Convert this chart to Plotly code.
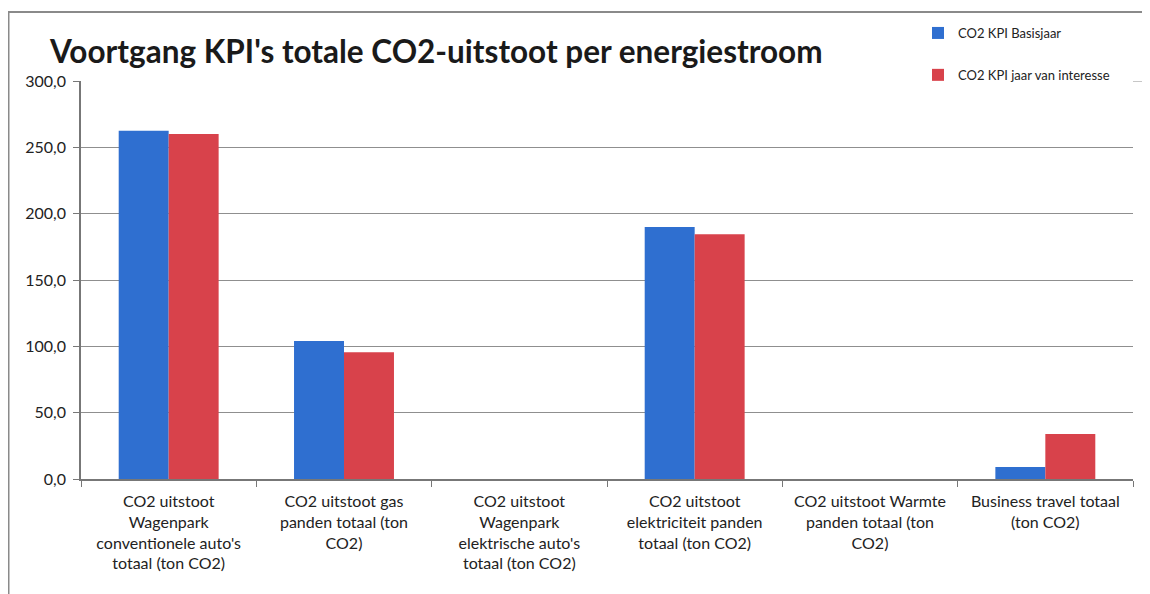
import plotly.graph_objects as go

categories = [
    "CO2 uitstoot<br>Wagenpark<br>conventionele auto's<br>totaal (ton CO2)",
    "CO2 uitstoot gas<br>panden totaal (ton<br>CO2)",
    "CO2 uitstoot<br>Wagenpark<br>elektrische auto's<br>totaal (ton CO2)",
    "CO2 uitstoot<br>elektriciteit panden<br>totaal (ton CO2)",
    "CO2 uitstoot Warmte<br>panden totaal (ton<br>CO2)",
    "Business travel totaal<br>(ton CO2)",
]
basisjaar = [262.5, 104.0, 0.0, 190.0, 0.0, 9.0]
jaar_interesse = [260.0, 95.5, 0.0, 184.5, 0.0, 34.0]
y_ticks = [0, 50, 100, 150, 200, 250, 300]

FONT = "Lato, 'Open Sans', sans-serif"
W, H = 1150, 594
L, R, T, B = 73, 25, 73, 123
PW, PH = W - L - R, H - T - B


def px(x):
    return (x - L) / PW


def py(y):
    return (H - B - y) / PH


fig = go.Figure()
fig.add_trace(go.Bar(x=categories, y=basisjaar, name="CO2 KPI Basisjaar",
                     marker=dict(color="#2f6fd0", line=dict(width=0)),
                     legendgroup="a"))
fig.add_trace(go.Bar(x=categories, y=jaar_interesse, name="CO2 KPI jaar van interesse",
                     marker=dict(color="#d8424b", line=dict(width=0)),
                     legendgroup="b"))

fig.update_layout(
    width=W, height=H,
    margin=dict(l=L, r=R, t=T, b=B, autoexpand=False),
    paper_bgcolor="white", plot_bgcolor="white",
    separators=",.",
    font=dict(family=FONT, size=16, color="#222222"),
    barmode="group", bargap=0.43, bargroupgap=0,
    title=dict(text="<b>Voortgang KPI's totale CO2-uitstoot per energiestroom</b>",
               x=42/W, xref="container", xanchor="left",
               y=1-44/H, yref="container", yanchor="middle",
               font=dict(family=FONT, size=31.5, color="#1a1a1a")),
    legend=dict(x=px(910), xanchor="left", y=py(10), yanchor="top",
                font=dict(size=13, color="#222222"), tracegroupgap=22,
                bgcolor="rgba(0,0,0,0)", itemwidth=30),
    showlegend=True,
)
fig.update_xaxes(
    type="category", tickson="boundaries", ticks="outside", ticklen=6,
    tickcolor="#777777", showline=True, linecolor="#777777", linewidth=1.5,
    showgrid=False, tickfont=dict(size=16), tickangle=0, ticklabelstandoff=7,
)
fig.update_yaxes(
    range=[0, 300], tickvals=y_ticks, tickformat=".1f", ticks="outside", ticklen=6,
    tickcolor="#777777", showline=True, linecolor="#777777", linewidth=1.5,
    showgrid=True, gridcolor="#8f8f8f", gridwidth=1, zeroline=False,
    tickfont=dict(size=16), ticklabelstandoff=4,
)
# top gridline extends under the legend
fig.add_shape(type="line", xref="paper", yref="y", x0=1, x1=px(W), y0=300, y1=300,
              line=dict(color="#8f8f8f", width=1))
# scanned frame border
fig.add_shape(type="line", xref="paper", yref="paper",
              x0=px(0.5), x1=px(0.5), y0=py(4), y1=py(H + 5),
              line=dict(color="#8a8a8a", width=2))
fig.add_shape(type="line", xref="paper", yref="paper",
              x0=px(0), x1=px(W), y0=py(4), y1=py(4),
              line=dict(color="#8a8a8a", width=2))

fig.write_html("out.html")
